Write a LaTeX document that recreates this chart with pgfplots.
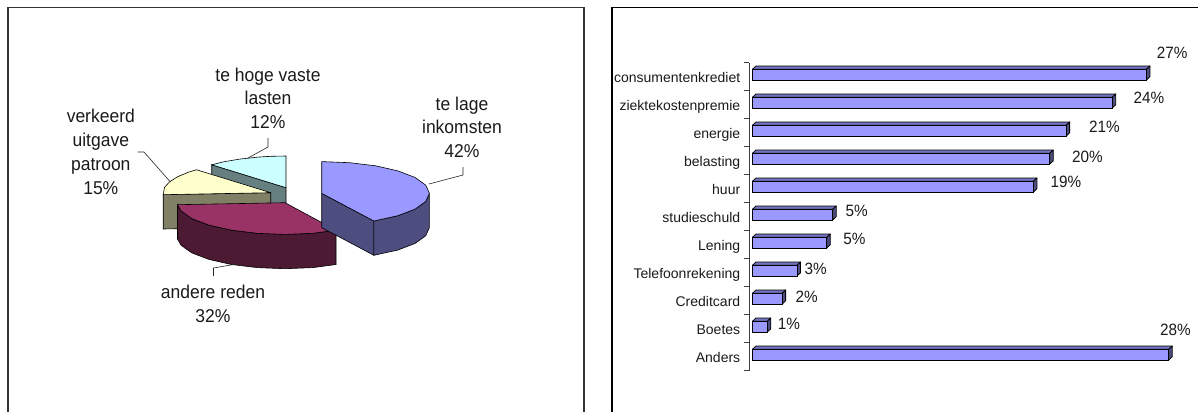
\documentclass[border=0pt]{standalone}
\usepackage{pgfplots}
\pgfplotsset{compat=1.18}
\usepackage{fontspec}
\setmainfont{Liberation Sans}
\definecolor{blueF}{HTML}{9999FF}
\definecolor{blueS}{HTML}{4D4D80}
\definecolor{blueT}{HTML}{7373BF}
\definecolor{redF}{HTML}{993366}
\definecolor{redS}{HTML}{4D1A33}
\definecolor{yelF}{HTML}{FFFFCC}
\definecolor{yelS}{HTML}{808066}
\definecolor{cyaF}{HTML}{CCFFFF}
\definecolor{cyaS}{HTML}{668080}
\definecolor{txt}{HTML}{1A1A1A}
\begin{document}
\begin{tikzpicture}[x=1pt,y=1pt]
\useasboundingbox (0pt,0pt) rectangle (1198pt,412pt);
% ---------- bar chart, values in percent
\begin{axis}[
  at={(749pt,41.3pt)}, anchor=south west,
  width=449pt, height=308pt, scale only axis,
  xmin=-0.229, xmax=29.97, ymin=-0.5, ymax=10.5,
  clip=false,
  hide x axis,
  axis y line*=left,
  y axis line style={-,draw=black!75,line width=0.9pt},
  ytick={0,...,10},
  yticklabels={Anders,Boetes,Creditcard,Telefoonrekening,Lening,studieschuld,huur,belasting,energie,ziektekostenpremie,consumentenkrediet},
  yticklabel style={font=\fontsize{14}{16}\selectfont,text=txt,anchor=base east,inner sep=0pt,xshift=-8.6pt,yshift=-5.4pt},
  major tick length=0pt,
  minor ytick={-0.5,0.5,...,10.5},
  minor tick length=4.7pt,
  tick align=outside,
  every minor tick/.style={draw=black!75,line width=0.9pt},
]
\foreach \i/\v in {0/28.0,1/1.0,2/2.0,3/3.0,4/5.0,5/5.4,6/18.9,7/20.0,8/21.1,9/24.2,10/26.5}{
  \pgfmathsetmacro{\yt}{\i+0.2625}
  \pgfmathsetmacro{\yb}{\i-0.1196}
  \pgfmathsetmacro{\ytt}{\yt+0.118}
  \pgfmathsetmacro{\ybb}{\yb+0.118}
  \pgfmathsetmacro{\vv}{\v+0.235}
  \edef\tmp{\noexpand\addplot[fill=blueT,draw=black,line width=0.8pt,line join=round,forget plot] coordinates {(0,\yt) (\v,\yt) (\vv,\ytt) (0.235,\ytt) (0,\yt)};
  \noexpand\addplot[fill=blueS,draw=black,line width=0.8pt,line join=round,forget plot] coordinates {(\v,\yb) (\v,\yt) (\vv,\ytt) (\vv,\ybb) (\v,\yb)};}
  \tmp
}
\addplot[xbar,bar width=10.7pt,bar shift=2pt,fill=blueF,draw=black,line width=0.8pt] coordinates {
  (28.0,0) (1.0,1) (2.0,2) (3.0,3) (5.0,4) (5.4,5) (18.9,6) (20.0,7) (21.1,8) (24.2,9) (26.5,10)};
\end{axis}
% ---------- overlay in pixel coordinates: frames, pie, labels
\begin{axis}[
  at={(0pt,0pt)}, anchor=south west,
  width=1198pt, height=412pt, scale only axis,
  xmin=0, xmax=1198, ymin=0, ymax=412, y dir=reverse,
  axis lines=none, clip=true,
  every axis plot/.append style={forget plot},
]
% frames
\addplot[draw=black!80,line width=1.2pt] coordinates {(8,412) (8,7.6) (584,7.6) (584,412)};
\addplot[draw=black,line width=1.2pt] coordinates {(612,412) (612,7.6) (1198,7.6)};
% cyan slice (12%)
\addplot[fill=cyaS,draw=black,line width=0.6pt] coordinates {(211.7,164.75) (286,187.7) (286,222) (211.7,199) (211.7,164.75)};
\addplot[fill=cyaF,draw=black,line width=0.6pt] coordinates {(286,187.7) (211.7,164.75) (224.2,161.7) (240.4,159) (258.1,157.1) (271,156.3) (286,156) (286,187.7)};
% yellow slice (15%)
\addplot[fill=yelS,draw=black,line width=0.6pt] coordinates {(163.2,194.7) (270.7,192.7) (270.7,227) (163.2,229) (163.2,194.7)};
\addplot[fill=yelF,draw=black,line width=0.6pt] coordinates {(270.7,192.7) (163.2,194.7) (164.6,187.2) (169.5,181.9) (177.4,176.85) (188.2,172.3) (196.4,169.75) (270.7,192.7)};
% red slice (32%)
\addplot[fill=redS,draw=black,line width=0.6pt] coordinates {(336,230.2) (312.9,233.3) (285,234.4) (257.1,233.3) (231.2,230.15) (208.9,225.1) (191.7,218.55) (181,210.9) (177.5,204.7) (177.5,239) (181,245.2) (191.7,252.85) (208.9,259.4) (231.2,264.45) (257.1,267.6) (285,268.7) (312.9,267.6) (336,264.5) (336,230.2)};
\addplot[fill=redF,draw=black,line width=0.6pt] coordinates {(285,202.7) (336,230.2) (312.9,233.3) (285,234.4) (257.1,233.3) (231.2,230.15) (208.9,225.1) (191.7,218.55) (181,210.9) (177.5,204.7) (285,202.7)};
% blue slice (42%)
\addplot[fill=blueS,draw=black,line width=0.6pt] coordinates {(321.7,193.3) (373.9,221) (373.9,255.3) (321.7,227.6) (321.7,193.3)};
\addplot[fill=blueS,draw=black,line width=0.6pt] coordinates {(429.4,193.3) (425.7,201.5) (415,209.15) (397.9,215.7) (373.9,221) (373.9,255.3) (397.9,250) (415,243.45) (425.7,235.8) (429.4,227.6) (429.4,193.3)};
\addplot[fill=blueF,draw=black,line width=0.6pt] coordinates {(321.7,193.3) (321.7,161.6) (349.6,162.7) (375.6,165.8) (397.9,170.9) (415,177.45) (425.7,185.1) (429.4,193.3) (425.7,201.5) (415,209.15) (397.9,215.7) (373.9,221) (321.7,193.3)};
% leader lines
\addplot[draw=black!85,line width=0.6pt] coordinates {(429,184) (463,175) (463,167)};
\addplot[draw=black!85,line width=0.6pt] coordinates {(236.5,264) (213.5,268) (213.5,276)};
\addplot[draw=black!85,line width=0.6pt] coordinates {(170.4,182) (144,152) (137.7,152)};
\addplot[draw=black!85,line width=0.6pt] coordinates {(248,158) (268,147) (268,138)};
% pie labels
\tikzset{pl/.style={font=\fontsize{17.5}{22.6}\selectfont,text=txt,align=center,inner sep=0pt,yscale=1.06,transform shape}}
\node[pl] at (axis cs:462,127.3) {te lage\\inkomsten\\42\%};
\node[pl] at (axis cs:268,98.3) {te hoge vaste\\lasten\\12\%};
\node[pl] at (axis cs:100.8,152.3) {verkeerd\\uitgave\\patroon\\15\%};
\node[pl] at (axis cs:213,304) {andere reden\\32\%};
% bar value labels
\tikzset{bl/.style={font=\fontsize{15.3}{16}\selectfont,text=txt,inner sep=0pt,yscale=1.07,transform shape}}
\node[bl] at (axis cs:1172.2,53.3) {27\%};
\node[bl] at (axis cs:1148.9,97.7) {24\%};
\node[bl] at (axis cs:1104.3,126.7) {21\%};
\node[bl] at (axis cs:1087.3,156.7) {20\%};
\node[bl] at (axis cs:1066,182.3) {19\%};
\node[bl] at (axis cs:856.7,210.7) {5\%};
\node[bl] at (axis cs:854.3,238.7) {5\%};
\node[bl] at (axis cs:815.6,268.7) {3\%};
\node[bl] at (axis cs:806.7,297.3) {2\%};
\node[bl] at (axis cs:788.8,324.3) {1\%};
\node[bl] at (axis cs:1175.3,329.7) {28\%};
\end{axis}
\end{tikzpicture}
\end{document}
